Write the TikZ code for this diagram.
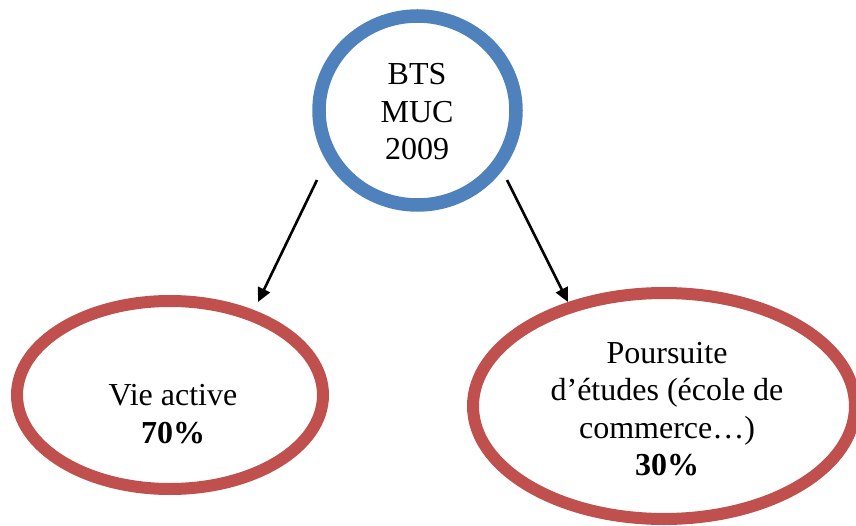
\documentclass[tikz,border=0pt]{standalone}
\usepackage{fontspec}
\setmainfont{Liberation Serif}
\usetikzlibrary{shapes.geometric,arrows.meta}
\definecolor{bblue}{HTML}{4F81BD}
\definecolor{rred}{HTML}{C0504D}
\begin{document}
\begin{tikzpicture}[x=1pt,y=-1pt,
  txt/.style={font=\fontsize{32}{37.5}\selectfont, align=center, inner sep=0pt},
  ring/.style={ellipse, line width=12pt, inner sep=0pt, fill=white},
  topring/.style={ring, draw=bblue, line width=13.5pt},
  redring/.style={ring, draw=rred},
  arr/.style={line width=2.6pt, -{Triangle[length=14pt,width=13pt]}}
]
\useasboundingbox (0,0) rectangle (856,526);
\node[topring, minimum width=197pt, minimum height=189pt] (top) at (417.5,110.5) {};
\node[txt] (toptxt) at (417,112) {BTS\\MUC\\2009};
\node[redring, minimum width=306pt, minimum height=188pt] (left) at (170,395) {};
\node[txt] (lefttxt) at (173,414) {Vie active\\\textbf{70\%}};
\node[redring, minimum width=382pt, minimum height=226pt] (right) at (664,406) {};
\node[txt] (righttxt) at (667,409) {Poursuite\\d’études (école de\\commerce…)\\\textbf{30\%}};
\coordinate (a1s) at (317,180);
\coordinate (a1e) at (258,302);
\coordinate (a2s) at (507,180);
\coordinate (a2e) at (568,302);
\draw[arr] (a1s) -- (a1e);
\draw[arr] (a2s) -- (a2e);
\end{tikzpicture}
\end{document}
